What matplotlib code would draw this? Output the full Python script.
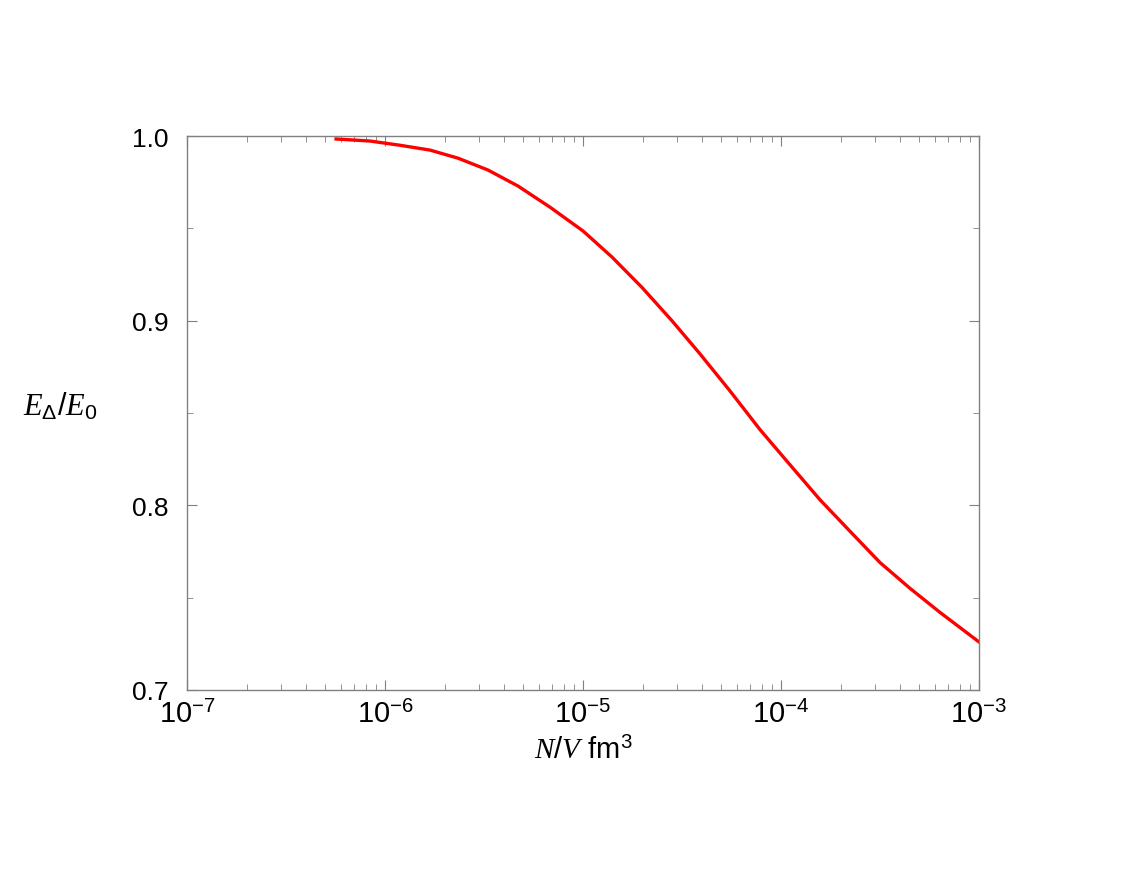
import numpy as np
import matplotlib.pyplot as plt
from matplotlib.ticker import LogLocator, FixedLocator, NullFormatter

plt.rcParams['font.family'] = ['Liberation Sans', 'DejaVu Sans']
plt.rcParams['mathtext.fontset'] = 'custom'
plt.rcParams['mathtext.rm'] = 'Liberation Sans'
plt.rcParams['mathtext.it'] = 'Liberation Serif:italic'
plt.rcParams['mathtext.bf'] = 'Liberation Sans:bold'

# densita' N/V (fm^-3) e rapporto E_Delta/E_0
log_dens = [-6.247, -6.076, -5.924, -5.773, -5.631, -5.480, -5.328, -5.167,
            -5.000, -4.854, -4.702, -4.551, -4.409, -4.258, -4.106, -3.955,
            -3.803, -3.652, -3.500, -3.348, -3.197, -3.000]
ratio = [0.9984, 0.9973, 0.9950, 0.9924, 0.9880, 0.9816, 0.9729, 0.9615,
         0.9486, 0.9345, 0.9180, 0.9000, 0.8820, 0.8620, 0.8410, 0.8220,
         0.8030, 0.7860, 0.7690, 0.7550, 0.7420, 0.7260]
dens = 10.0 ** np.array(log_dens)

fig = plt.figure(figsize=(11.38, 8.79), dpi=100)
ax = fig.add_axes([0.1643, 0.2139, 0.696, 0.6302])

ax.plot(dens, ratio, color='red', lw=2.4)

ax.set_xscale('log')
ax.set_xlim(1e-7, 1e-3)
ax.set_ylim(0.7, 1.0)
ax.xaxis.set_major_locator(FixedLocator([1e-7, 1e-6, 1e-5, 1e-4, 1e-3]))
ax.xaxis.set_minor_locator(LogLocator(base=10, subs=np.arange(2, 10)))
ax.xaxis.set_minor_formatter(NullFormatter())
ax.set_xticklabels([r'$10^{-7}$', r'$10^{-6}$', r'$10^{-5}$', r'$10^{-4}$', r'$10^{-3}$'])
ax.set_yticks([0.7, 0.8, 0.9, 1.0])
ax.set_yticks([0.75, 0.85, 0.95], minor=True)
ax.set_yticklabels(['0.7', '0.8', '0.9', '1.0'])

for s in ax.spines.values():
    s.set_color('#808080')
    s.set_linewidth(1.0)
ax.tick_params(which='both', direction='in', top=True, right=True, color='#808080')
ax.tick_params(which='major', length=7)
ax.tick_params(which='minor', length=4)
ax.tick_params(axis='y', labelsize=19, pad=13)
ax.tick_params(axis='x', labelsize=21, pad=7)

ax.set_xlabel(r'$N/V$ fm$^3$', fontsize=21, labelpad=6)
ax.set_ylabel(r'$E_{\Delta}/E_{\mathit{0}}$', fontsize=22, rotation=0)
ax.yaxis.set_label_coords(-0.160, 0.485)

plt.savefig('out.png', dpi=100)
plt.close()
